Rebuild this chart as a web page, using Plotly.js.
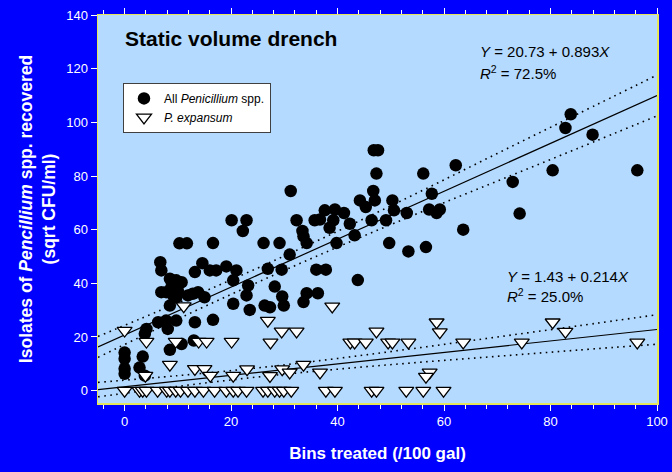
<!DOCTYPE html>
<html>
<head>
<meta charset="utf-8">
<script src="https://cdn.plot.ly/plotly-3.0.1.min.js"></script>
<style>html,body{margin:0;padding:0;background:#0000FF;}#chart{width:672px;height:472px;}</style>
</head>
<body>
<div id="chart"></div>
<script>
// All Penicillium spp. (filled circles)
const allX = [0,0,0,0,3.4,2.8,3.8,4.1,3.8,6.3,7.8,9.7,8.1,8.5,10.7,13.0,13.2,16.6,8.5,20.4,20.4,6.7,6.9,14.6,16.0,17.2,19.1,21.0,13.2,8.5,9.7,10.7,8.8,7.8,10.0,6.9,9.1,9.7,11.9,12.8,13.8,15.0,20.1,22.2,10.3,11.7,16.6,22.9,46.8,47.6,47.3,46.7,44.2,47.0,45.3,31.2,32.3,35.7,36.7,37.6,39.5,41.2,39.2,38.5,42.3,46.4,33.4,33.6,34.2,26.1,29.1,39.8,43.2,31.0,26.9,29.5,36.0,37.8,43.8,23.2,22.9,28.2,29.6,29.9,34.2,36.3,33.6,23.5,26.3,27.3,62.2,56.1,50.3,50.6,53.0,57.7,57.2,58.6,59.2,49.1,63.6,72.9,74.2,49.7,53.3,56.6,83.8,82.8,87.9,80.4,96.3];
const allY = [14.2,11.9,8.2,6.3,12.7,8.6,5.6,23.0,21.2,25.5,26.1,26.1,23.0,15.2,17.4,18.7,25.5,26.4,31.7,32.4,41.1,47.9,44.8,47.5,44.8,44.8,46.3,44.8,44.2,41.7,41.1,40.4,38.6,36.7,37.3,36.7,35.5,34.8,35.5,36.1,36.7,34.8,63.5,59.5,54.9,54.9,55.0,63.5,89.6,89.6,80.9,74.4,70.9,70.9,68.4,74.4,63.5,63.5,63.8,67.2,67.5,66.2,63.5,60.7,62.2,63.5,59.5,57.5,55.0,55.0,55.0,55.0,57.9,50.7,45.4,45.1,45.1,45.1,41.2,39.2,35.5,38.8,35.1,31.7,36.3,36.3,33.0,30.1,31.7,31.1,84.0,80.9,70.9,67.2,66.2,73.4,67.5,66.2,67.5,63.5,60.0,77.8,66.0,55.0,51.9,53.5,103.0,97.9,95.4,82.1,82.1];

// P. expansum (open triangles)
const expX = [0,11.1,4.1,9.6,13.9,15.4,20.1,8.5,13.2,15.0,16.1,20.4,3.9,39.0,26.9,29.5,32.3,47.3,27.4,42.4,43.2,45.3,23.0,29.6,33.6,31.0,36.7,27.3,58.6,59.2,49.5,50.3,53.3,63.6,57.3,56.6,80.4,82.8,74.6,96.3,
  0,2.8,3.4,4.1,6.2,7.9,8.5,9.6,10.5,11.9,13.2,14.8,16.9,19.1,20.4,21.3,22.9,26.0,26.9,28.2,29.1,29.9,31.3,37.8,39.5,46.4,47.3,52.9,56.1,59.9];
const expY = [22.4,31.5,18.3,18.3,18.3,18.3,18.3,9.7,8.1,8.1,5.6,5.6,5.6,31.4,26.1,22.1,22.1,22.1,18.0,18.0,18.0,18.0,8.0,8.0,9.7,6.8,6.8,5.5,25.5,21.8,18.0,18.0,18.0,18.0,6.8,5.2,25.5,22.0,18.0,18.0,
  0,0,0,0,0,0,0,0,0,0,0,0,0,0,0,0,0,0,0,0,0,0,0,0,0,0,0,0,0,0];

// Regression lines and dotted confidence bands
const fitX = [-5, 100];
const allFitY = [16.3, 110.0];
const expFitY = [0.4, 22.8];
const bandX = [-5, 10, 25, 40, 55, 70, 85, 100];
const allUpper = [20.2, 32.7, 45.7, 59.4, 73.7, 88.4, 103.0, 117.6];
const allLower = [12.4, 26.7, 40.4, 53.5, 66.0, 78.1, 90.2, 102.4];
const expUpper = [3.1, 5.6, 8.5, 12.0, 15.9, 20.0, 24.1, 28.3];
const expLower = [-2.3, 1.6, 5.1, 8.0, 10.5, 12.8, 15.1, 17.3];

const xTicks = [0, 20, 40, 60, 80, 100];
const yTicks = [0, 20, 40, 60, 80, 100, 120, 140];

const F = 'Arial, "Liberation Sans", sans-serif';
const lineT = (x, y, dash, w) => ({x: x, y: y, type: 'scatter', mode: 'lines', showlegend: false, hoverinfo: 'skip',
  line: {color: '#000000', width: w, dash: dash, shape: 'spline'}});

const traces = [
  lineT(bandX, allUpper, '1.6px,4.4px', 1.6),
  lineT(bandX, allLower, '1.6px,4.4px', 1.6),
  lineT(fitX, allFitY, 'solid', 1.2),
  lineT(bandX, expUpper, '1.6px,4.4px', 1.6),
  lineT(bandX, expLower, '1.6px,4.4px', 1.6),
  lineT(fitX, expFitY, 'solid', 1.2),
  {x: allX, y: allY, type: 'scatter', mode: 'markers', name: 'All <i>Penicillium</i> spp.',
   marker: {symbol: 'circle', size: 12.5, color: '#000000', line: {width: 0}}},
  {x: expX, y: expY, type: 'scatter', mode: 'markers', name: '<i>P. expansum</i>',
   marker: {symbol: 'triangle-down', size: 13, color: '#FFFFFF', line: {color: '#000000', width: 1.3}}}
];

const layout = {
  width: 672, height: 472,
  margin: {l: 98, r: 15, t: 15, b: 69},
  paper_bgcolor: '#0000FF',
  plot_bgcolor: '#B4DAFF',
  font: {family: F, color: '#FFFFFF'},
  showlegend: true,
  legend: {x: 0.0447, y: 0.825, xanchor: 'left', yanchor: 'top', bgcolor: '#FFFFFF',
    bordercolor: '#404040', borderwidth: 1, font: {family: F, size: 12, color: '#000000'}, tracegroupgap: 0},
  xaxis: {range: [-5, 100], tickvals: xTicks, ticktext: xTicks.map(String), ticks: 'outside', ticklen: 6, tickwidth: 1,
    tickcolor: '#FFFFFF', showline: true, linecolor: '#E6E65C', linewidth: 1.5, mirror: 'ticks',
    showgrid: false, zeroline: false, tickfont: {family: F, size: 13, color: '#FFFFFF'},
    minor: {tick0: 0, dtick: 4, ticks: 'outside', ticklen: 4, tickcolor: '#FFFFFF', showgrid: false},
    title: {text: '<b>Bins treated (/100 gal)</b>', font: {family: F, size: 17, color: '#FFFFFF'}, standoff: 19}},
  yaxis: {range: [-4.6, 140], tickvals: yTicks, ticktext: yTicks.map(String), ticks: 'outside', ticklen: 6, tickwidth: 1,
    tickcolor: '#FFFFFF', showline: true, linecolor: '#E6E65C', linewidth: 1.5, mirror: true,
    showgrid: false, zeroline: false, tickfont: {family: F, size: 13, color: '#FFFFFF'},
    title: {text: '<b>Isolates of <i>Pencillium</i> spp. recovered<br>(sqrt CFU/ml)</b>', font: {family: F, size: 17.5, color: '#FFFFFF'}, standoff: 6}},
  annotations: [
    {xref: 'paper', yref: 'paper', x: 0.0447, y: 0.94, xanchor: 'left', yanchor: 'middle', showarrow: false,
     text: '<b>Static volume drench</b>', font: {family: F, size: 21, color: '#000000'}},
    {xref: 'paper', yref: 'paper', x: 0.68, y: 0.905, xanchor: 'left', yanchor: 'middle', showarrow: false,
     text: '<i>Y</i> = 20.73 + 0.893<i>X</i>', font: {family: F, size: 15, color: '#000000'}},
    {xref: 'paper', yref: 'paper', x: 0.68, y: 0.853, xanchor: 'left', yanchor: 'middle', showarrow: false,
     text: '<i>R</i><sup>2</sup> = 72.5%', font: {family: F, size: 15, color: '#000000'}},
    {xref: 'paper', yref: 'paper', x: 0.728, y: 0.327, xanchor: 'left', yanchor: 'middle', showarrow: false,
     text: '<i>Y</i> = 1.43 + 0.214<i>X</i>', font: {family: F, size: 15, color: '#000000'}},
    {xref: 'paper', yref: 'paper', x: 0.728, y: 0.277, xanchor: 'left', yanchor: 'middle', showarrow: false,
     text: '<i>R</i><sup>2</sup> = 25.0%', font: {family: F, size: 15, color: '#000000'}}
  ]
};

Plotly.newPlot('chart', traces, layout, {staticPlot: true, displayModeBar: false});
</script>
</body>
</html>
